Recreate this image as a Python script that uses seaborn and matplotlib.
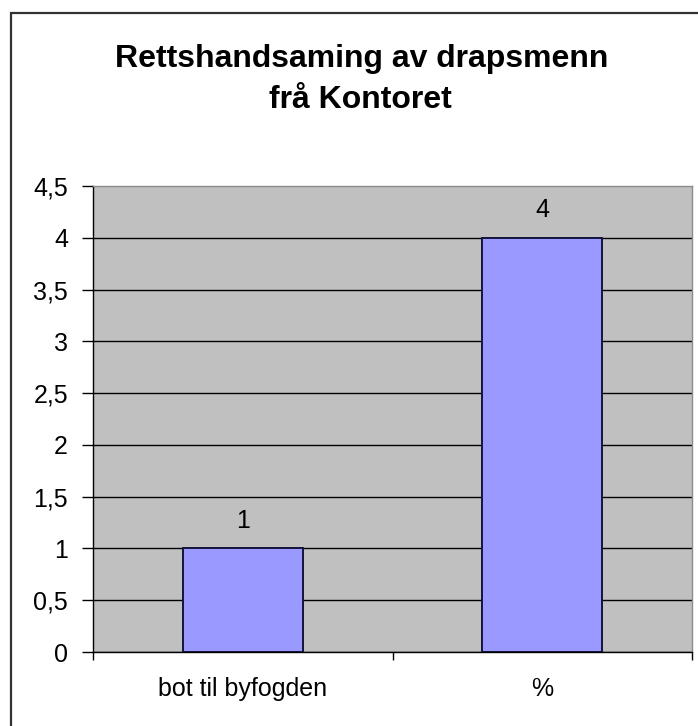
import matplotlib
matplotlib.use("Agg")
import matplotlib.pyplot as plt
import seaborn as sns
from matplotlib.patches import Rectangle
from matplotlib.ticker import FuncFormatter, FixedLocator

# data
categories = ["bot til byfogden", "%"]
values = [1, 4]
title_lines = ["Rettshandsaming av drapsmenn", "frå Kontoret"]
yticks = [0, 0.5, 1, 1.5, 2, 2.5, 3, 3.5, 4, 4.5]

sns.set_style("white")
plt.rcParams['font.family'] = ['Liberation Sans', 'DejaVu Sans']
plt.rcParams['text.color'] = 'black'
plt.rcParams['xtick.color'] = 'black'
plt.rcParams['ytick.color'] = 'black'

fig = plt.figure(figsize=(6.98, 7.26), dpi=100)
ax = fig.add_axes([93/698, 1 - 652/726, 599/698, 466/726])

sns.barplot(x=categories, y=values, ax=ax, color="#9999FF", width=0.4,
            edgecolor="#14143c", linewidth=1.4, saturation=1)
ax.set_facecolor("#C0C0C0")

ax.set_ylim(0, 4.5)
ax.set_xlim(-0.5, 1.5)
ax.set_yticks(yticks)
ax.yaxis.set_major_formatter(FuncFormatter(lambda v, p: ("%g" % v).replace(".", ",")))
ax.set_axisbelow(True)
ax.yaxis.grid(True, color="black", linewidth=1.0)
ax.xaxis.grid(False)
# top line of the plot area is grey, not a black gridline
ax.yaxis.get_gridlines()[-1].set_visible(False)

# x ticks on the category boundaries, labels in the middle
ax.xaxis.set_major_locator(FixedLocator([-0.5, 0.5, 1.5]))
ax.xaxis.set_major_formatter(FuncFormatter(lambda v, p: ""))
ax.xaxis.set_minor_locator(FixedLocator([0, 1]))
ax.set_xticklabels(categories, minor=True)
ax.tick_params(axis="x", which="major", direction="out", length=6, width=1, color="black", bottom=True)
ax.tick_params(axis="x", which="minor", length=0, pad=18, labelsize=18)
ax.tick_params(axis="y", direction="out", length=8, width=1, color="black", left=True,
               labelsize=18, pad=10)

for s in ["top", "right"]:
    ax.spines[s].set_color("#8c8c8c")
    ax.spines[s].set_linewidth(1)
for s in ["left", "bottom"]:
    ax.spines[s].set_color("black")
    ax.spines[s].set_linewidth(1)
ax.set_xlabel("")
ax.set_ylabel("")

# value labels above the bars
for i, v in enumerate(values):
    ax.text(i, v + 0.2, str(v), ha="center", va="baseline", fontsize=18)

fig.text(362/698, 1 - 67/726, title_lines[0], ha="center", va="baseline",
         fontsize=23, fontweight="bold")
fig.text(360/698, 1 - 108/726, title_lines[1], ha="center", va="baseline",
         fontsize=23, fontweight="bold")

# outer chart border
fig.patches.append(Rectangle((11/698, -0.05), 1.0, 1 - 13/726 + 0.05, transform=fig.transFigure,
                             fill=False, edgecolor="#333333", linewidth=1.6))

fig.savefig("out.png", dpi=100)
